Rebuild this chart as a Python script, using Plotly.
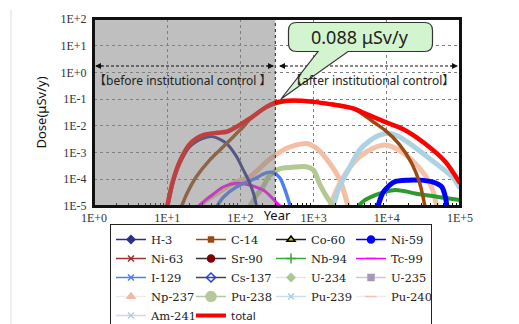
import math
import plotly.graph_objects as go

# ---------------- data ----------------
h3_year = [10.3, 12.0, 15.0, 20.4, 30.9, 42.7, 64.6, 89.1, 110, 129, 151, 166]
h3_dose = [1e-5, 7.1e-5, 4.0e-4, 1.66e-3, 3.4e-3, 3.9e-3, 2.19e-3, 6.9e-4, 2.19e-4, 9.3e-5, 2.95e-5, 1.0e-5]

c14_year = [15.8, 18.6, 25.1, 38.0, 52.5, 64.6, 89.1, 110, 135, 229, 447, 1000, 3467, 5012, 6918, 9441, 14454, 21878, 28184, 33113]
c14_dose = [1e-5, 2.95e-5, 1.26e-4, 5.25e-4, 1.26e-3, 2.19e-3, 5.25e-3, 9.3e-3, 1.78e-2, 5.0e-2, 8.5e-2, 7.9e-2, 4.4e-2, 2.4e-2, 1.26e-2, 6.9e-3, 2.19e-3, 3.98e-4, 7.1e-5, 1e-5]

ni59_year = [7586, 8511, 9441, 12882, 19498, 28184, 40738, 56234, 63096, 66069]
ni59_dose = [1e-5, 2.5e-5, 3.98e-5, 8.1e-5, 9.3e-5, 9.3e-5, 8.1e-5, 5.25e-5, 2.19e-5, 1e-5]

nb94_year = [4074, 5012, 7079, 9441, 12882, 17783, 24547, 50119, 100000]
nb94_dose = [1e-5, 1.66e-5, 2.63e-5, 3.39e-5, 3.98e-5, 3.55e-5, 2.95e-5, 2.19e-5, 1.66e-5]

tc99_year = [26.9, 38.0, 58.9, 89.1, 135, 204, 251, 316, 347]
tc99_dose = [1e-5, 2.19e-5, 5.25e-5, 7.1e-5, 6.0e-5, 3.98e-5, 2.5e-5, 1.26e-5, 1e-5]

i129_year = [47.9, 58.9, 89.1, 151, 229, 282, 347, 407, 479]
i129_dose = [1e-5, 2.19e-5, 5.25e-5, 1e-4, 1.78e-4, 1.78e-4, 1.12e-4, 3.98e-5, 1e-5]

np237_year = [1660, 2291, 3467, 5370, 9441, 15849, 26915, 40738, 47863]
np237_dose = [1e-5, 7.1e-5, 3.98e-4, 1.1e-3, 1.9e-3, 1.07e-3, 2.95e-4, 5.25e-5, 1e-5]

pu238_year = [135, 166, 204, 251, 347, 501, 794, 1000, 1230, 1514, 1862]
pu238_dose = [1e-5, 2.5e-5, 5.25e-5, 1.41e-4, 2.5e-4, 2.8e-4, 2.95e-4, 2.19e-4, 6.0e-5, 2.19e-5, 1e-5]

pu239_year = [1862, 2239, 2818, 4266, 5888, 7943, 10471, 14125, 19498, 40738, 77625, 100000]
pu239_dose = [1e-5, 5.0e-5, 1.66e-4, 1.26e-3, 2.8e-3, 4.5e-3, 5.25e-3, 4.2e-3, 2.4e-3, 5.25e-4, 1.26e-4, 4.6e-5]

pu240_year = [28.2, 35.5, 47.9, 79.4, 135, 251, 427, 794, 1096, 1660, 2291, 2951]
pu240_dose = [1e-5, 1.78e-5, 2.95e-5, 7.1e-5, 1.26e-4, 5.6e-4, 1.45e-3, 2.19e-3, 1.45e-3, 3.98e-4, 9.3e-5, 1e-5]

total_year = [10, 12.0, 15.0, 20.4, 30.9, 47.9, 64.6, 89.1, 135, 229, 302, 447, 1000, 3467, 5012, 9441, 17783, 33113, 63096, 100000]
total_dose = [1e-5, 8.9e-5, 5.0e-4, 2.1e-3, 4.5e-3, 5.5e-3, 6.0e-3, 9.3e-3, 1.9e-2, 5.25e-2, 7.6e-2, 8.8e-2, 7.9e-2, 4.5e-2, 2.95e-2, 1.41e-2, 6.9e-3, 2.19e-3, 4.57e-4, 7.1e-5]

legend_names = ["H-3", "C-14", "Co-60", "Ni-59", "Ni-63", "Sr-90", "Nb-94", "Tc-99",
                "I-129", "Cs-137", "U-234", "U-235", "Np-237", "Pu-238", "Pu-239", "Pu-240",
                "Am-241", "total"]

x_tick_vals = [1, 10, 100, 1000, 10000, 100000]
x_tick_text = ["1E+0", "1E+1", "1E+2", "1E+3", "1E+4", "1E+5"]
y_tick_vals = [1e-5, 1e-4, 1e-3, 1e-2, 1e-1, 1, 10, 100]
y_tick_text = ["1E-5", "1E-4", "1E-3", "1E-2", "1E-1", "1E+0", "1E+1", "1E+2"]

peak_label = "0.088 μSv/y"
control_year = 300

# ---------------- styles ----------------
# legend symbol styles: (line colour, marker symbol, marker colour, marker size, marker line colour)
legend_style = {
    "H-3": ("#2b2f8a", "diamond", "#2b2f8a", 6, "#2b2f8a"),
    "C-14": ("#9c4a12", "square", "#9c4a12", 5, "#9c4a12"),
    "Co-60": ("#222222", "triangle-up", "#d8d000", 7, "#000000"),
    "Ni-59": ("#0000ff", "circle", "#0000ff", 7, "#0000ff"),
    "Ni-63": ("#a03030", "x-thin", "#a03030", 6, "#a03030"),
    "Sr-90": ("#333333", "circle", "#800000", 7, "#800000"),
    "Nb-94": ("#33aa33", "cross-thin", "#33aa33", 7, "#33aa33"),
    "Tc-99": ("#ff00ff", "line-ew", "#ff00ff", 7, "#ff00ff"),
    "I-129": ("#4d7ff0", "x-thin", "#4d7ff0", 6, "#4d7ff0"),
    "Cs-137": ("#444444", "diamond-open", "#2040e0", 7, "#2040e0"),
    "U-234": ("#e4e4e4", "diamond", "#a8c890", 6, "#a8c890"),
    "U-235": ("#c8c8e0", "square", "#a898b8", 6, "#a898b8"),
    "Np-237": ("#ececec", "triangle-up", "#f4b8a0", 7, "#f4b8a0"),
    "Pu-238": ("#b5c99a", "circle", "#b5c99a", 10, "#b5c99a"),
    "Pu-239": ("#c8e0ee", "x-thin", "#a8d0e4", 6, "#a8d0e4"),
    "Pu-240": ("#eeeeee", "line-ew", "#f8c0a8", 8, "#f8c0a8"),
    "Am-241": ("#d0d8f0", "x-thin", "#b8cce0", 6, "#b8cce0"),
}

fig = go.Figure()

# legend entries
for name in legend_names:
    if name == "total":
        fig.add_trace(go.Scatter(
            x=[None], y=[None], mode="lines",
            name='<span style="font-family:Noto Sans, Liberation Sans">total</span>',
            line=dict(color="#ff0000", width=4)))
    else:
        lc, sym, mc, ms, mlc = legend_style[name]
        fig.add_trace(go.Scatter(
            x=[None], y=[None], mode="lines+markers", name=name,
            line=dict(color=lc, width=1.5),
            marker=dict(symbol=sym, color=mc, size=ms, line=dict(color=mlc, width=1.5))))

# data curves (drawn in this order, total last/on top)
curves = [
    (pu240_year, pu240_dose, "#f5bea4", 5),
    (np237_year, np237_dose, "#f5c1a9", 5),
    (pu239_year, pu239_dose, "#add3e2", 5),
    (pu238_year, pu238_dose, "#b4c894", 5),
    (tc99_year, tc99_dose, "#ff00ff", 3),
    (i129_year, i129_dose, "#4d7ff0", 3.5),
    (nb94_year, nb94_dose, "#2e9a2e", 4),
    (ni59_year, ni59_dose, "#0000ff", 5),
    (h3_year, h3_dose, "#2b2f8a", 3),
    (c14_year, c14_dose, "#9c4a12", 3.5),
    (total_year, total_dose, "#ff0000", 4.5),
]
for xs, ys, col, w in curves:
    fig.add_trace(go.Scatter(x=xs, y=ys, mode="lines", showlegend=False,
                             line=dict(color=col, width=w, shape="spline", smoothing=0.8),
                             hoverinfo="skip"))

# ---------------- layout helpers ----------------
# the page body has an 8 px margin; all positions below are given in window pixels
OFF = 8
W, H = 519 - OFF, 324 - OFF
PL, PR, PT, PB = 94, 460, 19, 206          # plot area in window pixels
L, T = PL - OFF, PT - OFF
R, B = W - (PR - OFF), H - (PB - OFF)
PW, PH = PR - PL, PB - PT


def px(xp):
    return (xp - PL) / PW


def py(yp):
    return (PB - yp) / PH


ctrl = math.log10(control_year) / 5.0

shapes = []
# gray overlay for "before institutional control"
shapes.append(dict(type="rect", xref="paper", yref="paper", x0=0, x1=ctrl, y0=0, y1=1,
                   fillcolor="rgba(128,128,128,0.5)", line=dict(width=0), layer="above"))
# vertical dotted line at 300 y
shapes.append(dict(type="line", xref="paper", yref="paper", x0=ctrl, x1=ctrl, y0=0, y1=1,
                   line=dict(color="#222222", width=1, dash="dot"), layer="above"))
# plot frame
shapes.append(dict(type="rect", xref="paper", yref="paper", x0=0, x1=1, y0=0, y1=1,
                   line=dict(color="#111111", width=2), layer="above"))
# dashed arrow lines
ya = py(66)
shapes.append(dict(type="line", xref="paper", yref="paper", x0=px(96), x1=px(273), y0=ya, y1=ya,
                   line=dict(color="#111111", width=1.2, dash="3px,2px"), layer="above"))
shapes.append(dict(type="line", xref="paper", yref="paper", x0=px(280), x1=px(456), y0=ya, y1=ya,
                   line=dict(color="#111111", width=1.2, dash="3px,2px"), layer="above"))
# outer faint frame line on the left
shapes.append(dict(type="line", xref="paper", yref="paper", x0=px(11), x1=px(11), y0=py(10), y1=py(330),
                   line=dict(color="#dddddd", width=1), layer="above"))

# callout balloon
bl, br, bt, bb, r = 288.5, 432.5, 22.5, 51.5, 8
tip = (281, 99)


def P(a, b):
    return f"{px(a):.5f},{py(b):.5f}"


path = (f"M{P(bl + r, bt)} L{P(br - r, bt)} Q{P(br, bt)} {P(br, bt + r)} "
        f"L{P(br, bb - r)} Q{P(br, bb)} {P(br - r, bb)} L{P(348, bb)} L{P(*tip)} L{P(318, bb)} "
        f"L{P(bl + r, bb)} Q{P(bl, bb)} {P(bl, bb - r)} L{P(bl, bt + r)} Q{P(bl, bt)} {P(bl + r, bt)} Z")
shapes.append(dict(type="path", xref="paper", yref="paper", path=path,
                   fillcolor="#d2f5cf", line=dict(color="#333333", width=1.2), layer="above"))

annotations = [
    dict(text=peak_label, xref="paper", yref="paper", x=px(360), y=py(37), showarrow=False,
         xanchor="center", yanchor="middle",
         font=dict(family="Noto Sans, Liberation Sans", size=18, color="#222222")),
    dict(text="【before institutional control 】", xref="paper", yref="paper", x=px(183), y=py(80),
         showarrow=False, xanchor="center", yanchor="middle",
         font=dict(family="Noto Sans, Noto Sans CJK JP", size=12, color="#222222")),
    dict(text="【after institutional control】", xref="paper", yref="paper", x=px(372), y=py(80),
         showarrow=False, xanchor="center", yanchor="middle",
         font=dict(family="Noto Sans, Noto Sans CJK JP", size=12, color="#222222")),
]
# arrow heads
for xt, dx in [(95, 9), (274, -9), (279, 9), (458, -9)]:
    annotations.append(dict(text="", xref="paper", yref="paper", x=px(xt), y=ya, ax=dx, ay=0,
                            showarrow=True, arrowhead=2, arrowsize=1, arrowwidth=1.2,
                            arrowcolor="#111111", standoff=0))

minor_vals = [m * 10 ** k for k in range(5) for m in range(2, 10)]

legend_top = 224  # window pixels

fig.update_layout(
    width=W, height=H,
    margin=dict(l=L, r=R, t=T, b=B, pad=0, autoexpand=False),
    paper_bgcolor="white", plot_bgcolor="white",
    shapes=shapes, annotations=annotations,
    showlegend=True,
    legend=dict(orientation="h", x=px(110), y=(H - (legend_top - OFF)) / H, xref="paper", yref="container",
                xanchor="left", yanchor="top",
                entrywidth=35, entrywidthmode="pixels", bgcolor="white",
                bordercolor="#222222", borderwidth=1, traceorder="normal",
                font=dict(family="DejaVu Serif", size=11.5, color="#222222")),
    xaxis=dict(type="log", range=[0, 5], tickvals=x_tick_vals, ticktext=x_tick_text,
               showgrid=True, gridcolor="#808080", griddash="dot", gridwidth=1,
               showline=True, linecolor="#111111", linewidth=2, mirror=True,
               ticks="", ticklabelstandoff=0, zeroline=False, automargin=False,
               tickfont=dict(family="Liberation Serif", size=12, color="#333333"),
               minor=dict(tickmode="array", tickvals=minor_vals, ticks="inside", ticklen=3,
                          tickcolor="#111111", showgrid=False),
               title=dict(text="Year", standoff=0,
                          font=dict(family="Noto Sans, Liberation Sans", size=13, color="#111111"))),
    yaxis=dict(type="log", range=[-5, 2], tickvals=y_tick_vals, ticktext=y_tick_text,
               showgrid=True, gridcolor="#808080", griddash="dot", gridwidth=1,
               showline=True, linecolor="#111111", linewidth=2, mirror=True,
               ticks="", ticklabelstandoff=3, zeroline=False, automargin=False,
               tickfont=dict(family="Liberation Serif", size=12, color="#333333"),
               title=dict(text="Dose(μSv/y)", standoff=11,
                          font=dict(family="Noto Sans, Liberation Sans", size=13, color="#111111"))),
)

fig.write_html("out.html")
